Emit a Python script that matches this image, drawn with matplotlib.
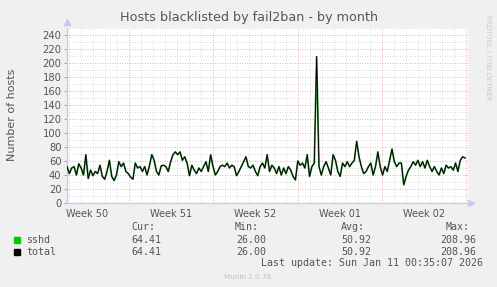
import numpy as np
import matplotlib
matplotlib.use("Agg")
import matplotlib.pyplot as plt

# sshd / total, one value every ~4.8 h over the month
sshd = [52, 42, 50, 52, 40, 56, 50, 40, 69, 35, 47, 39, 45, 42, 54, 38, 34, 45, 61, 38,
        32, 40, 59, 52, 57, 45, 42, 37, 34, 57, 50, 52, 45, 52, 40, 53, 69, 61, 45, 40,
        53, 54, 52, 45, 59, 69, 73, 69, 73, 61, 66, 57, 39, 54, 47, 42, 50, 45, 52, 59,
        45, 69, 52, 40, 45, 52, 54, 52, 57, 50, 54, 52, 39, 45, 52, 59, 66, 52, 50, 54,
        45, 39,
        52, 57, 50, 69, 45, 54, 50, 42, 52, 40, 50, 42, 52, 47, 38, 33, 60, 54, 57, 50,
        69, 38, 52, 57, 208.96, 52, 40, 52, 59, 50, 40, 69, 61, 45, 38, 57, 52, 59, 52,
        57, 61, 88, 66, 52, 42, 45, 52, 57, 40, 52, 73, 52, 40, 52, 45, 61, 77, 59, 52,
        57, 57, 26, 38, 47, 52, 59, 54, 61, 52, 59, 50, 61, 52, 45, 52, 45, 40, 50, 42,
        54, 50, 52, 47, 57, 45, 61, 66, 64.41]
total = list(sshd)

t_start, t_end = 0.0, 33.05      # days from left edge of graph
x_max = 33.3
first_week_start = 5.15          # day where Week 51 begins
week_labels = ["Week 50", "Week 51", "Week 52", "Week 01", "Week 02"]
y_ticks = list(range(0, 241, 20))

legend_names = ["sshd", "total"]
legend_colors = ["#00CC00", "#000000"]
legend_cur = ["64.41", "64.41"]
legend_min = ["26.00", "26.00"]
legend_avg = ["50.92", "50.92"]
legend_max = ["208.96", "208.96"]

W, H = 497, 287
bg = "#F0F0F0"
txt = "#555555"
axis_col = "#C8C8F4"
red_grid = "#E49494"
gray_grid = "#CFCFCF"

fig = plt.figure(figsize=(W / 100, H / 100), dpi=100, facecolor=bg)
ax = fig.add_axes([67 / W, 84 / H, 401 / W, 175 / H])
ax.set_facecolor("white")

t = np.linspace(t_start, t_end, len(sshd))

ax.set_xlim(0, x_max)
ax.set_ylim(0, 250)

# grid
for v in range(10, 251, 10):
    c = red_grid if v % 20 == 0 else gray_grid
    ax.axhline(v, color=c, lw=0.6, ls=(0, (1, 2)), zorder=1)
days = np.arange(first_week_start - 5, x_max, 1.0)
for d in days:
    wk = abs(((d - first_week_start) / 7) - round((d - first_week_start) / 7)) < 1e-6
    ax.axvline(d, color=red_grid if wk else gray_grid, lw=0.6, ls=(0, (1, 2)), zorder=1)

ax.plot(t, sshd, color="#2F7F2F", lw=1.25, zorder=3)
ax.plot(t, total, color="#000000", lw=0.6, zorder=4)

for s in ["top", "right"]:
    ax.spines[s].set_visible(False)
for s in ["left", "bottom"]:
    ax.spines[s].set_color(axis_col)
    ax.spines[s].set_linewidth(1.0)
ax.plot([0], [1.035], marker="^", ms=4, color=axis_col, transform=ax.transAxes, clip_on=False)
ax.plot([1.008], [0], marker=">", ms=4, color=axis_col, transform=ax.transAxes, clip_on=False)

ax.set_yticks(y_ticks)
ax.set_yticklabels([str(v) for v in y_ticks])
ax.tick_params(axis="y", length=2, width=0.6, color="#999999", labelsize=7.2, labelcolor=txt, pad=2)

centers = [first_week_start - 3.5 + 7 * i for i in range(len(week_labels))]
ax.set_xticks(centers)
ax.set_xticklabels(week_labels)
ax.tick_params(axis="x", length=0, labelsize=7.0, labelcolor=txt, pad=4)

fig.text(249 / W, 1 - 17 / H, "Hosts blacklisted by fail2ban - by month",
         ha="center", va="center", fontsize=9.2, color=txt)
fig.text(12 / W, 1 - 115 / H, "Number of hosts", rotation=90,
         ha="center", va="center", fontsize=8.0, color=txt)
fig.text(488 / W, 1 - 15 / H, "RRDTOOL / TOBI OETIKER", rotation=270,
         ha="center", va="top", fontsize=4.8, color="#C8C8C8")

mono = dict(family="DejaVu Sans Mono", fontsize=7.2, color=txt, va="center")
cols_x = [155, 259, 365, 470]
for hx, h in zip(cols_x, ["Cur:", "Min:", "Avg:", "Max:"]):
    fig.text(hx / W, 1 - 227 / H, h, ha="right", **mono)
rows_y = [240, 252]
for i, name in enumerate(legend_names):
    yy = 1 - rows_y[i] / H
    fig.patches.append(plt.Rectangle((14 / W, yy - 3 / H), 6 / W, 6 / H,
                                     transform=fig.transFigure, color=legend_colors[i]))
    fig.text(26 / W, yy, name, ha="left", **mono)
    vals = [legend_cur[i], legend_min[i], legend_avg[i], legend_max[i]]
    for vx, v in zip([161, 266, 371, 476], vals):
        fig.text(vx / W, yy, v, ha="right", **mono)
fig.text(483 / W, 1 - 263.5 / H, "Last update: Sun Jan 11 00:35:07 2026", ha="right", **mono)
fig.text(248 / W, 1 - 277 / H, "Munin 2.0.76", ha="center", va="center",
         fontsize=5.2, color="#C0C0C0")

fig.savefig("out.png", dpi=100, facecolor=bg)
